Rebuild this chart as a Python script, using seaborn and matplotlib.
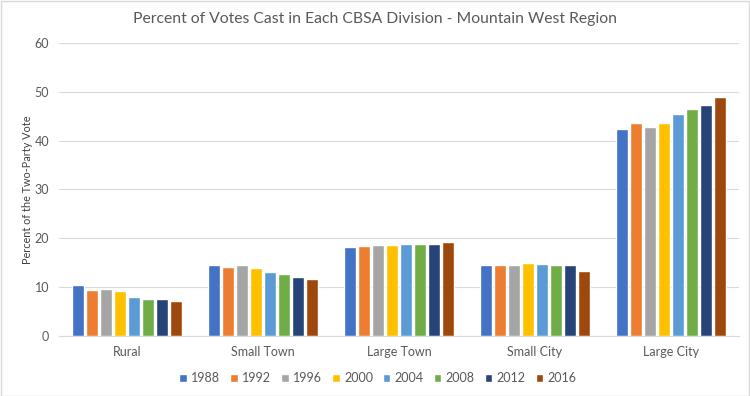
import matplotlib.pyplot as plt
import pandas as pd
import seaborn as sns
from matplotlib.patches import Rectangle

# data
divisions = ["Rural", "Small Town", "Large Town", "Small City", "Large City"]
years = ["1988", "1992", "1996", "2000", "2004", "2008", "2012", "2016"]
rural = [10.5, 9.4, 9.5, 9.1, 8.0, 7.6, 7.5, 7.2]
small_town = [14.6, 14.1, 14.5, 13.9, 13.0, 12.6, 12.1, 11.6]
large_town = [18.2, 18.4, 18.7, 18.6, 18.8, 18.9, 18.9, 19.2]
small_city = [14.5, 14.6, 14.6, 14.9, 14.8, 14.6, 14.5, 13.3]
large_city = [42.4, 43.6, 42.9, 43.6, 45.4, 46.4, 47.3, 48.9]
colors = ["#4472C4", "#ED7D31", "#A5A5A5", "#FFC000",
          "#5B9BD5", "#70AD47", "#264478", "#9E480E"]

rows = []
for div, vals in zip(divisions, [rural, small_town, large_town, small_city, large_city]):
    for yr, v in zip(years, vals):
        rows.append({"division": div, "year": yr, "pct": v})
df = pd.DataFrame(rows)

sns.set_style("white")
plt.rcParams["font.family"] = ["Lato", "DejaVu Sans"]

fig = plt.figure(figsize=(7.5, 3.96), dpi=100)
ax = fig.add_axes([0.0787, 0.152, 0.9067, 0.739])

sns.barplot(data=df, x="division", y="pct", hue="year", order=divisions,
            hue_order=years, palette=colors, width=0.82, gap=0.12,
            saturation=1, errorbar=None, ax=ax)

ax.set_ylim(0, 60)
ax.set_yticks(range(0, 61, 10))
ax.grid(axis="y", color="#D9D9D9", linewidth=0.8)
ax.set_axisbelow(True)
for side in ["top", "right", "left"]:
    ax.spines[side].set_visible(False)
ax.spines["bottom"].set_color("#D9D9D9")
ax.tick_params(axis="both", length=0, colors="#595959", labelsize=9, pad=7)
ax.set_xlabel("")
ax.set_ylabel("Percent of the Two-Party Vote", color="#404040", fontsize=7.8)
ax.yaxis.set_label_coords(-0.039, 0.5)

fig.suptitle("Percent of Votes Cast in Each CBSA Division - Mountain West Region",
             x=0.5, y=0.97, fontsize=11.3, color="#595959")

handles, labels = ax.get_legend_handles_labels()
ax.get_legend().remove()
fig.legend(handles, labels, loc="center", bbox_to_anchor=(0.504, 0.045),
           ncol=8, frameon=False, fontsize=9, handlelength=0.6,
           handleheight=0.6, handletextpad=0.35, columnspacing=0.8,
           labelcolor="#595959")

fig.patches.append(Rectangle((0.001, 0.001), 0.997, 0.997, transform=fig.transFigure,
                             fill=False, edgecolor="#D9D9D9", linewidth=1))

fig.savefig("out.png", dpi=100)
